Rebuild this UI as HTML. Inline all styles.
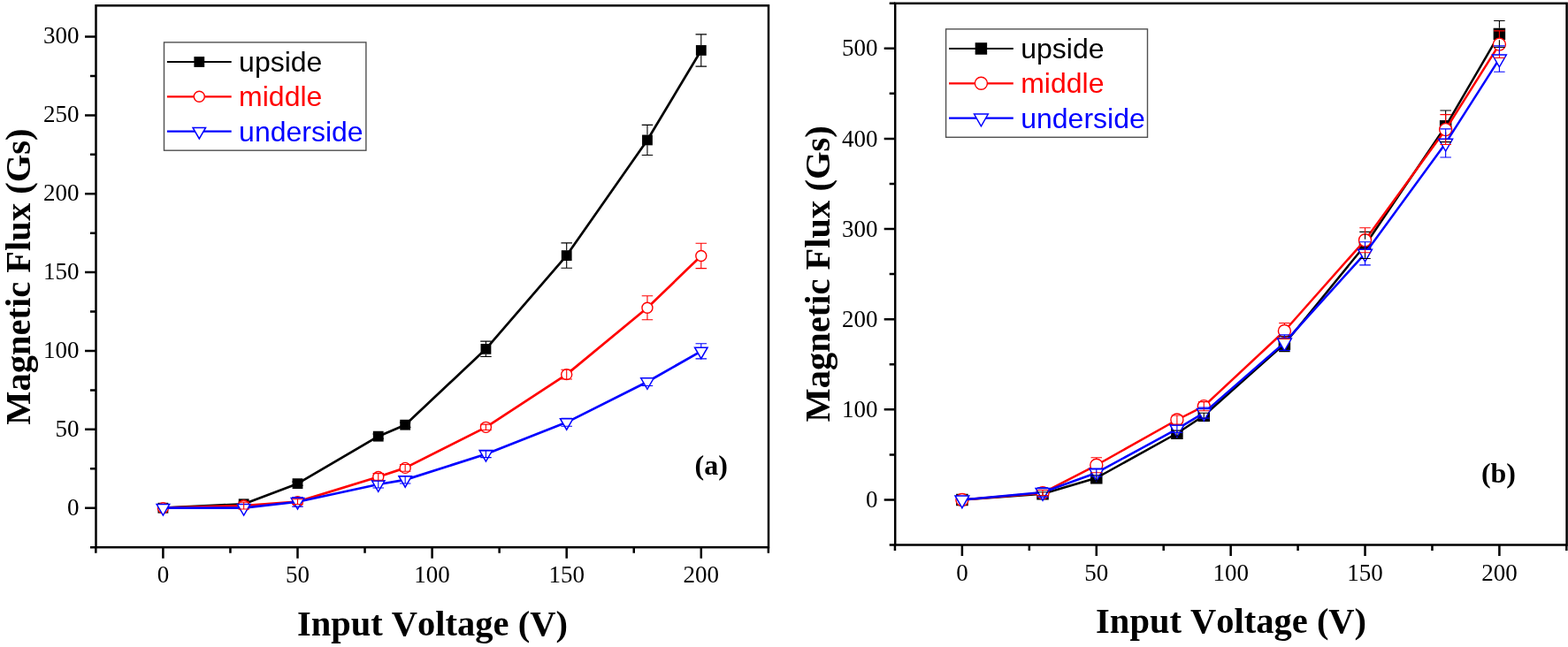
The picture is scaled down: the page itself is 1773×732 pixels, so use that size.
<!DOCTYPE html><html><head><meta charset="utf-8"><title>Magnetic Flux vs Input Voltage</title><style>html,body{margin:0;padding:0;background:#fff;}svg{display:block;} text{font-kerning:none;}</style></head><body>
<svg width="1773" height="732" viewBox="0 0 1773 732">
<rect x="0" y="0" width="1773" height="732" fill="#fff"/>
<g><polyline points="184.4,574.7 275.66,570.26 336.5,547.15 427.76,493.66 458.18,480.68 549.44,394.84 640.7,289.09 731.96,158.46 792.8,56.97" fill="none" stroke="#000000" stroke-width="2.7" stroke-linejoin="round"/><rect x="178.5" y="568.8" width="11.8" height="11.8" fill="#000000"/><rect x="269.76" y="564.36" width="11.8" height="11.8" fill="#000000"/><rect x="330.6" y="541.25" width="11.8" height="11.8" fill="#000000"/><rect x="421.86" y="487.76" width="11.8" height="11.8" fill="#000000"/><rect x="452.28" y="474.78" width="11.8" height="11.8" fill="#000000"/><rect x="543.54" y="388.94" width="11.8" height="11.8" fill="#000000"/><rect x="634.8" y="283.19" width="11.8" height="11.8" fill="#000000"/><rect x="726.06" y="152.56" width="11.8" height="11.8" fill="#000000"/><rect x="786.9" y="51.07" width="11.8" height="11.8" fill="#000000"/><polyline points="184.4,574.7 275.66,572.03 336.5,567.59 427.76,539.51 458.18,529.38 549.44,483.35 640.7,423.63 731.96,348.27 792.8,289.44" fill="none" stroke="#ff0000" stroke-width="2.7" stroke-linejoin="round"/><circle cx="184.4" cy="574.7" r="6" fill="#fff" stroke="#ff0000" stroke-width="1.4"/><circle cx="275.66" cy="572.03" r="6" fill="#fff" stroke="#ff0000" stroke-width="1.4"/><circle cx="336.5" cy="567.59" r="6" fill="#fff" stroke="#ff0000" stroke-width="1.4"/><circle cx="427.76" cy="539.51" r="6" fill="#fff" stroke="#ff0000" stroke-width="1.4"/><circle cx="458.18" cy="529.38" r="6" fill="#fff" stroke="#ff0000" stroke-width="1.4"/><circle cx="549.44" cy="483.35" r="6" fill="#fff" stroke="#ff0000" stroke-width="1.4"/><circle cx="640.7" cy="423.63" r="6" fill="#fff" stroke="#ff0000" stroke-width="1.4"/><circle cx="731.96" cy="348.27" r="6" fill="#fff" stroke="#ff0000" stroke-width="1.4"/><circle cx="792.8" cy="289.44" r="6" fill="#fff" stroke="#ff0000" stroke-width="1.4"/><polyline points="184.4,574.7 275.66,574.7 336.5,567.77 427.76,548.04 458.18,542.89 549.44,513.74 640.7,477.84 731.96,431.98 792.8,397.33" fill="none" stroke="#0000ff" stroke-width="2.7" stroke-linejoin="round"/><polygon points="177.15,570.53 191.65,570.53 184.4,583.03" fill="#fff" stroke="#0000ff" stroke-width="1.5" stroke-linejoin="miter"/><polygon points="268.41,570.53 282.91,570.53 275.66,583.03" fill="#fff" stroke="#0000ff" stroke-width="1.5" stroke-linejoin="miter"/><polygon points="329.25,563.6 343.75,563.6 336.5,576.1" fill="#fff" stroke="#0000ff" stroke-width="1.5" stroke-linejoin="miter"/><polygon points="420.51,543.87 435.01,543.87 427.76,556.37" fill="#fff" stroke="#0000ff" stroke-width="1.5" stroke-linejoin="miter"/><polygon points="450.93,538.72 465.43,538.72 458.18,551.22" fill="#fff" stroke="#0000ff" stroke-width="1.5" stroke-linejoin="miter"/><polygon points="542.19,509.57 556.69,509.57 549.44,522.07" fill="#fff" stroke="#0000ff" stroke-width="1.5" stroke-linejoin="miter"/><polygon points="633.45,473.67 647.95,473.67 640.7,486.17" fill="#fff" stroke="#0000ff" stroke-width="1.5" stroke-linejoin="miter"/><polygon points="724.71,427.82 739.21,427.82 731.96,440.32" fill="#fff" stroke="#0000ff" stroke-width="1.5" stroke-linejoin="miter"/><polygon points="785.55,393.16 800.05,393.16 792.8,405.66" fill="#fff" stroke="#0000ff" stroke-width="1.5" stroke-linejoin="miter"/><path d="M330.25 545.02H342.75M330.25 549.28H342.75M336.5 545.02V549.28" stroke="#000000" stroke-width="1.1" fill="none"/><path d="M421.51 490.99H434.01M421.51 496.32H434.01M427.76 490.99V496.32" stroke="#000000" stroke-width="1.1" fill="none"/><path d="M451.93 478.01H464.43M451.93 483.35H464.43M458.18 478.01V483.35" stroke="#000000" stroke-width="1.1" fill="none"/><path d="M543.19 386.13H555.69M543.19 403.55H555.69M549.44 386.13V388.94M549.44 400.74V403.55" stroke="#000000" stroke-width="1.1" fill="none"/><path d="M634.45 274.87H646.95M634.45 303.31H646.95M640.7 274.87V283.19M640.7 294.99V303.31" stroke="#000000" stroke-width="1.1" fill="none"/><path d="M725.71 141.39H738.21M725.71 175.52H738.21M731.96 141.39V152.56M731.96 164.36V175.52" stroke="#000000" stroke-width="1.1" fill="none"/><path d="M786.55 38.84H799.05M786.55 75.1H799.05M792.8 38.84V51.07M792.8 62.87V75.1" stroke="#000000" stroke-width="1.1" fill="none"/><path d="M269.41 568.12H281.91M269.41 575.94H281.91M275.66 568.12V575.94" stroke="#ff0000" stroke-width="1.1" fill="none"/><path d="M330.25 564.75H342.75M330.25 570.43H342.75M336.5 564.75V570.43" stroke="#ff0000" stroke-width="1.1" fill="none"/><path d="M421.51 535.6H434.01M421.51 543.42H434.01M427.76 535.6V543.42" stroke="#ff0000" stroke-width="1.1" fill="none"/><path d="M451.93 525.47H464.43M451.93 533.29H464.43M458.18 525.47V533.29" stroke="#ff0000" stroke-width="1.1" fill="none"/><path d="M543.19 480.15H555.69M543.19 486.55H555.69M549.44 480.15V486.55" stroke="#ff0000" stroke-width="1.1" fill="none"/><path d="M634.45 418.3H646.95M634.45 428.96H646.95M640.7 418.3V428.96" stroke="#ff0000" stroke-width="1.1" fill="none"/><path d="M725.71 334.76H738.21M725.71 361.78H738.21M731.96 334.76V342.27M731.96 354.27V361.78" stroke="#ff0000" stroke-width="1.1" fill="none"/><path d="M786.55 275.22H799.05M786.55 303.66H799.05M792.8 275.22V283.44M792.8 295.44V303.66" stroke="#ff0000" stroke-width="1.1" fill="none"/><path d="M330.25 562.44H342.75M330.25 573.1H342.75M336.5 562.44V563.6" stroke="#0000ff" stroke-width="1.1" fill="none"/><path d="M421.51 544.13H434.01M421.51 551.95H434.01M427.76 544.13V551.95" stroke="#0000ff" stroke-width="1.1" fill="none"/><path d="M451.93 538.8H464.43M451.93 546.97H464.43M458.18 538.8V546.97" stroke="#0000ff" stroke-width="1.1" fill="none"/><path d="M543.19 509.83H555.69M543.19 517.65H555.69M549.44 509.83V517.65" stroke="#0000ff" stroke-width="1.1" fill="none"/><path d="M634.45 473.39H646.95M634.45 482.28H646.95M640.7 473.39V473.67" stroke="#0000ff" stroke-width="1.1" fill="none"/><path d="M725.71 427.54H738.21M725.71 436.43H738.21M731.96 427.54V427.82" stroke="#0000ff" stroke-width="1.1" fill="none"/><path d="M786.55 388.79H799.05M786.55 405.86H799.05M792.8 388.79V393.16M792.8 405.66V405.86" stroke="#0000ff" stroke-width="1.1" fill="none"/></g>
<rect x="108.5" y="6.3" width="760.5" height="612.9" fill="none" stroke="#000" stroke-width="2.5"/>
<path d="M108.35 619.2V625.7M184.4 619.2V631.7M260.45 619.2V625.7M336.5 619.2V631.7M412.55 619.2V625.7M488.6 619.2V631.7M564.65 619.2V625.7M640.7 619.2V631.7M716.75 619.2V625.7M792.8 619.2V631.7M868.85 619.2V625.7M108.5 574.7H96M108.5 485.84H96M108.5 396.97H96M108.5 308.11H96M108.5 219.24H96M108.5 130.38H96M108.5 41.51H96M108.5 619.13H102M108.5 530.27H102M108.5 441.4H102M108.5 352.54H102M108.5 263.67H102M108.5 174.81H102M108.5 85.94H102" stroke="#000" stroke-width="2.5" fill="none"/>
<g font-family="&quot;Liberation Serif&quot;, &quot;Times New Roman&quot;, serif" font-size="27" fill="#000"><text x="184.4" y="659" text-anchor="middle">0</text><text x="336.5" y="659" text-anchor="middle">50</text><text x="488.6" y="659" text-anchor="middle">100</text><text x="640.7" y="659" text-anchor="middle">150</text><text x="792.8" y="659" text-anchor="middle">200</text><text x="89.5" y="582.6" text-anchor="end">0</text><text x="89.5" y="493.74" text-anchor="end">50</text><text x="89.5" y="404.87" text-anchor="end">100</text><text x="89.5" y="316" text-anchor="end">150</text><text x="89.5" y="227.14" text-anchor="end">200</text><text x="89.5" y="138.28" text-anchor="end">250</text><text x="89.5" y="49.41" text-anchor="end">300</text></g>
<text x="335.9" y="718.9" font-family="&quot;Liberation Serif&quot;, &quot;Times New Roman&quot;, serif" font-size="40.5" font-weight="bold">Input Voltage (V)</text>
<text transform="translate(33.8 480.7) rotate(-90)" x="0" y="0" font-family="&quot;Liberation Serif&quot;, &quot;Times New Roman&quot;, serif" font-size="40.5" font-weight="bold">Magnetic Flux (Gs)</text>
<text x="785.6" y="536.5" font-family="&quot;Liberation Serif&quot;, &quot;Times New Roman&quot;, serif" font-size="32" font-weight="bold">(a)</text>
<g><rect x="185.5" y="47.9" width="228.4" height="122.3" fill="#fff" stroke="#505050" stroke-width="1.4"/><path d="M188.9 70H261.7" stroke="#000000" stroke-width="2.2" stroke-linecap="butt"/><rect x="219.4" y="64.1" width="11.8" height="11.8" fill="#000000"/><text x="270.1" y="80.9" font-family="&quot;Liberation Sans&quot;, Arial, sans-serif" font-size="32" fill="#000000">upside</text><path d="M188.9 109.3H261.7" stroke="#ff0000" stroke-width="2.2" stroke-linecap="butt"/><circle cx="225.3" cy="109.3" r="6" fill="#fff" stroke="#ff0000" stroke-width="1.4"/><text x="270.1" y="120.2" font-family="&quot;Liberation Sans&quot;, Arial, sans-serif" font-size="32" fill="#ff0000">middle</text><path d="M188.9 148.6H261.7" stroke="#0000ff" stroke-width="2.2" stroke-linecap="butt"/><polygon points="218.05,144.43 232.55,144.43 225.3,156.93" fill="#fff" stroke="#0000ff" stroke-width="1.5" stroke-linejoin="miter"/><text x="270.1" y="159.5" font-family="&quot;Liberation Sans&quot;, Arial, sans-serif" font-size="32" fill="#0000ff">underside</text></g>
<g><polyline points="1087.9,565.5 1179.03,558.76 1239.78,540.78 1330.9,490.22 1361.28,470.3 1452.4,389.19 1543.53,277.44 1634.65,142.8 1695.4,38.51" fill="none" stroke="#000000" stroke-width="2.5" stroke-linejoin="round"/><rect x="1081.15" y="558.75" width="13.5" height="13.5" fill="#000000"/><rect x="1172.28" y="552.01" width="13.5" height="13.5" fill="#000000"/><rect x="1233.03" y="534.03" width="13.5" height="13.5" fill="#000000"/><rect x="1324.15" y="483.47" width="13.5" height="13.5" fill="#000000"/><rect x="1354.53" y="463.55" width="13.5" height="13.5" fill="#000000"/><rect x="1445.65" y="382.44" width="13.5" height="13.5" fill="#000000"/><rect x="1536.78" y="270.69" width="13.5" height="13.5" fill="#000000"/><rect x="1627.9" y="136.05" width="13.5" height="13.5" fill="#000000"/><rect x="1688.65" y="31.76" width="13.5" height="13.5" fill="#000000"/><polyline points="1087.9,565.5 1179.03,557.63 1239.78,526.27 1330.9,475 1361.28,459.67 1452.4,374.48 1543.53,271.72 1634.65,146.58 1695.4,50.15" fill="none" stroke="#ff0000" stroke-width="2.5" stroke-linejoin="round"/><circle cx="1087.9" cy="565.5" r="7" fill="#fff" stroke="#ff0000" stroke-width="1.4"/><circle cx="1179.03" cy="557.63" r="7" fill="#fff" stroke="#ff0000" stroke-width="1.4"/><circle cx="1239.78" cy="526.27" r="7" fill="#fff" stroke="#ff0000" stroke-width="1.4"/><circle cx="1330.9" cy="475" r="7" fill="#fff" stroke="#ff0000" stroke-width="1.4"/><circle cx="1361.28" cy="459.67" r="7" fill="#fff" stroke="#ff0000" stroke-width="1.4"/><circle cx="1452.4" cy="374.48" r="7" fill="#fff" stroke="#ff0000" stroke-width="1.4"/><circle cx="1543.53" cy="271.72" r="7" fill="#fff" stroke="#ff0000" stroke-width="1.4"/><circle cx="1634.65" cy="146.58" r="7" fill="#fff" stroke="#ff0000" stroke-width="1.4"/><circle cx="1695.4" cy="50.15" r="7" fill="#fff" stroke="#ff0000" stroke-width="1.4"/><polyline points="1087.9,565.5 1179.03,557.02 1239.78,534.96 1330.9,485.31 1361.28,467.13 1452.4,387.66 1543.53,286.83 1634.65,161.91 1695.4,66.6" fill="none" stroke="#0000ff" stroke-width="2.5" stroke-linejoin="round"/><polygon points="1080,560.9 1095.8,560.9 1087.9,574.7" fill="#fff" stroke="#0000ff" stroke-width="1.5" stroke-linejoin="miter"/><polygon points="1171.12,552.42 1186.93,552.42 1179.03,566.22" fill="#fff" stroke="#0000ff" stroke-width="1.5" stroke-linejoin="miter"/><polygon points="1231.88,530.36 1247.68,530.36 1239.78,544.16" fill="#fff" stroke="#0000ff" stroke-width="1.5" stroke-linejoin="miter"/><polygon points="1323,480.71 1338.8,480.71 1330.9,494.51" fill="#fff" stroke="#0000ff" stroke-width="1.5" stroke-linejoin="miter"/><polygon points="1353.38,462.53 1369.18,462.53 1361.28,476.33" fill="#fff" stroke="#0000ff" stroke-width="1.5" stroke-linejoin="miter"/><polygon points="1444.5,383.06 1460.3,383.06 1452.4,396.86" fill="#fff" stroke="#0000ff" stroke-width="1.5" stroke-linejoin="miter"/><polygon points="1535.62,282.23 1551.43,282.23 1543.53,296.03" fill="#fff" stroke="#0000ff" stroke-width="1.5" stroke-linejoin="miter"/><polygon points="1626.75,157.31 1642.55,157.31 1634.65,171.11" fill="#fff" stroke="#0000ff" stroke-width="1.5" stroke-linejoin="miter"/><polygon points="1687.5,62 1703.3,62 1695.4,75.8" fill="#fff" stroke="#0000ff" stroke-width="1.5" stroke-linejoin="miter"/><path d="M1172.78 556.72H1185.28M1172.78 560.8H1185.28M1179.03 556.72V560.8" stroke="#000000" stroke-width="1.1" fill="none"/><path d="M1233.53 537.72H1246.03M1233.53 543.84H1246.03M1239.78 537.72V543.84" stroke="#000000" stroke-width="1.1" fill="none"/><path d="M1324.65 487.15H1337.15M1324.65 493.28H1337.15M1330.9 487.15V493.28" stroke="#000000" stroke-width="1.1" fill="none"/><path d="M1355.03 467.23H1367.53M1355.03 473.36H1367.53M1361.28 467.23V473.36" stroke="#000000" stroke-width="1.1" fill="none"/><path d="M1446.15 380.71H1458.65M1446.15 397.67H1458.65M1452.4 380.71V382.44M1452.4 395.94V397.67" stroke="#000000" stroke-width="1.1" fill="none"/><path d="M1537.28 262.42H1549.78M1537.28 292.45H1549.78M1543.53 262.42V270.69M1543.53 284.19V292.45" stroke="#000000" stroke-width="1.1" fill="none"/><path d="M1628.4 125.03H1640.9M1628.4 160.58H1640.9M1634.65 125.03V136.05M1634.65 149.55V160.58" stroke="#000000" stroke-width="1.1" fill="none"/><path d="M1689.15 23.49H1701.65M1689.15 53.52H1701.65M1695.4 23.49V31.76M1695.4 45.26V53.52" stroke="#000000" stroke-width="1.1" fill="none"/><path d="M1172.78 554.57H1185.28M1172.78 560.7H1185.28M1179.03 554.57V560.7" stroke="#ff0000" stroke-width="1.1" fill="none"/><path d="M1233.53 517.8H1246.03M1233.53 534.75H1246.03M1239.78 517.8V519.27M1239.78 533.27V534.75" stroke="#ff0000" stroke-width="1.1" fill="none"/><path d="M1324.65 469.99H1337.15M1324.65 480H1337.15M1330.9 469.99V480" stroke="#ff0000" stroke-width="1.1" fill="none"/><path d="M1355.03 454.67H1367.53M1355.03 464.68H1367.53M1361.28 454.67V464.68" stroke="#ff0000" stroke-width="1.1" fill="none"/><path d="M1446.15 365.49H1458.65M1446.15 383.47H1458.65M1452.4 365.49V367.48M1452.4 381.48V383.47" stroke="#ff0000" stroke-width="1.1" fill="none"/><path d="M1537.28 257.72H1549.78M1537.28 285.71H1549.78M1543.53 257.72V264.72M1543.53 278.72V285.71" stroke="#ff0000" stroke-width="1.1" fill="none"/><path d="M1628.4 129.63H1640.9M1628.4 163.54H1640.9M1634.65 129.63V139.58M1634.65 153.58V163.54" stroke="#ff0000" stroke-width="1.1" fill="none"/><path d="M1689.15 34.83H1701.65M1689.15 65.48H1701.65M1695.4 34.83V43.15M1695.4 57.15V65.48" stroke="#ff0000" stroke-width="1.1" fill="none"/><path d="M1172.78 551.91H1185.28M1172.78 562.13H1185.28M1179.03 551.91V552.42" stroke="#0000ff" stroke-width="1.1" fill="none"/><path d="M1233.53 530.87H1246.03M1233.53 539.04H1246.03M1239.78 530.87V539.04" stroke="#0000ff" stroke-width="1.1" fill="none"/><path d="M1324.65 481.23H1337.15M1324.65 489.4H1337.15M1330.9 481.23V489.4" stroke="#0000ff" stroke-width="1.1" fill="none"/><path d="M1355.03 461.1H1367.53M1355.03 473.16H1367.53M1361.28 461.1V462.53" stroke="#0000ff" stroke-width="1.1" fill="none"/><path d="M1446.15 378.87H1458.65M1446.15 396.44H1458.65M1452.4 378.87V383.06" stroke="#0000ff" stroke-width="1.1" fill="none"/><path d="M1537.28 273.76H1549.78M1537.28 299.91H1549.78M1543.53 273.76V282.23M1543.53 296.03V299.91" stroke="#0000ff" stroke-width="1.1" fill="none"/><path d="M1628.4 145.87H1640.9M1628.4 177.94H1640.9M1634.65 145.87V157.31M1634.65 171.11V177.94" stroke="#0000ff" stroke-width="1.1" fill="none"/><path d="M1689.15 51.89H1701.65M1689.15 81.31H1701.65M1695.4 51.89V62M1695.4 75.8V81.31" stroke="#0000ff" stroke-width="1.1" fill="none"/></g>
<rect x="1012.2" y="3.8" width="759.4" height="612.7" fill="none" stroke="#000" stroke-width="2.5"/>
<path d="M1011.96 616.5V623M1087.9 616.5V629M1163.84 616.5V623M1239.78 616.5V629M1315.71 616.5V623M1391.65 616.5V629M1467.59 616.5V623M1543.53 616.5V629M1619.46 616.5V623M1695.4 616.5V629M1771.34 616.5V623M1012.2 565.5H999.7M1012.2 463.35H999.7M1012.2 361.2H999.7M1012.2 259.05H999.7M1012.2 156.9H999.7M1012.2 54.75H999.7M1012.2 616.58H1005.7M1012.2 514.42H1005.7M1012.2 412.27H1005.7M1012.2 310.12H1005.7M1012.2 207.97H1005.7M1012.2 105.82H1005.7M1012.2 3.67H1005.7" stroke="#000" stroke-width="2.5" fill="none"/>
<g font-family="&quot;Liberation Serif&quot;, &quot;Times New Roman&quot;, serif" font-size="27" fill="#000"><text x="1087.9" y="657" text-anchor="middle">0</text><text x="1239.78" y="657" text-anchor="middle">50</text><text x="1391.65" y="657" text-anchor="middle">100</text><text x="1543.53" y="657" text-anchor="middle">150</text><text x="1695.4" y="657" text-anchor="middle">200</text><text x="992.6" y="574.1" text-anchor="end">0</text><text x="992.6" y="471.95" text-anchor="end">100</text><text x="992.6" y="369.8" text-anchor="end">200</text><text x="992.6" y="267.65" text-anchor="end">300</text><text x="992.6" y="165.5" text-anchor="end">400</text><text x="992.6" y="63.35" text-anchor="end">500</text></g>
<text x="1239.1" y="716" font-family="&quot;Liberation Serif&quot;, &quot;Times New Roman&quot;, serif" font-size="40.5" font-weight="bold">Input Voltage (V)</text>
<text transform="translate(937.5 477.5) rotate(-90)" x="0" y="0" font-family="&quot;Liberation Serif&quot;, &quot;Times New Roman&quot;, serif" font-size="40.5" font-weight="bold">Magnetic Flux (Gs)</text>
<text x="1674.9" y="546.4" font-family="&quot;Liberation Serif&quot;, &quot;Times New Roman&quot;, serif" font-size="32" font-weight="bold">(b)</text>
<g><rect x="1069.6" y="32.9" width="227.9" height="122.4" fill="#fff" stroke="#505050" stroke-width="1.4"/><path d="M1073 55H1145.8" stroke="#000000" stroke-width="2.2" stroke-linecap="butt"/><rect x="1102.65" y="48.25" width="13.5" height="13.5" fill="#000000"/><text x="1154.2" y="65.9" font-family="&quot;Liberation Sans&quot;, Arial, sans-serif" font-size="32" fill="#000000">upside</text><path d="M1073 94.3H1145.8" stroke="#ff0000" stroke-width="2.2" stroke-linecap="butt"/><circle cx="1109.4" cy="94.3" r="7" fill="#fff" stroke="#ff0000" stroke-width="1.4"/><text x="1154.2" y="105.2" font-family="&quot;Liberation Sans&quot;, Arial, sans-serif" font-size="32" fill="#ff0000">middle</text><path d="M1073 133.6H1145.8" stroke="#0000ff" stroke-width="2.2" stroke-linecap="butt"/><polygon points="1101.5,129 1117.3,129 1109.4,142.8" fill="#fff" stroke="#0000ff" stroke-width="1.5" stroke-linejoin="miter"/><text x="1154.2" y="144.5" font-family="&quot;Liberation Sans&quot;, Arial, sans-serif" font-size="32" fill="#0000ff">underside</text></g>
</svg></body></html>
